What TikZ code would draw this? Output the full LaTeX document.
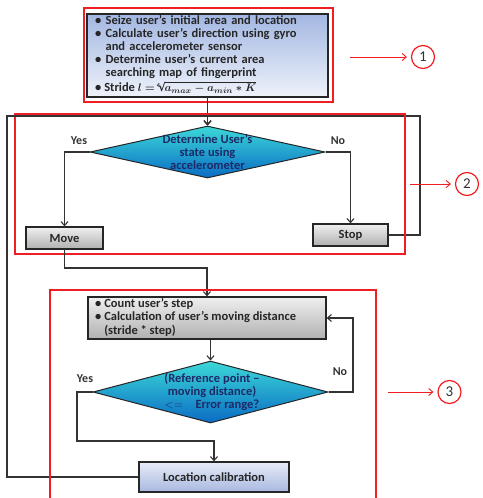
\documentclass[tikz,border=0pt]{standalone}
\usepackage{fontspec}
\setmainfont{Carlito}
\newfontfamily\symf{DejaVu Sans}
\usetikzlibrary{shapes.geometric,arrows.meta}
\definecolor{linec}{HTML}{333333}
\definecolor{redc}{HTML}{F01E23}
\definecolor{navy}{HTML}{1C2A66}
\definecolor{cyanT}{HTML}{3CD8D8}
\definecolor{blueB}{HTML}{0A6CC4}
\definecolor{lbT}{HTML}{A3B7E2}
\definecolor{lbB}{HTML}{EEF2FA}
\definecolor{locT}{HTML}{E6EBF7}
\definecolor{locB}{HTML}{A9B8E0}
\begin{document}
\begin{tikzpicture}[x=1pt,y=-1pt,
  conn/.style={draw=linec, line width=1.1pt},
  arr/.style={conn, -{Straight Barb[length=4pt,width=7pt]}},
  redbox/.style={draw=redc, line width=1.3pt},
  redarr/.style={draw=redc, line width=0.9pt, -{Straight Barb[length=4pt,width=7pt]}},
  num/.style={circle, draw=redc, line width=1.2pt, minimum size=23pt, inner sep=0pt, font=\fontsize{15}{15}\selectfont, text=black!80},
  txt/.style={font=\bfseries\fontsize{12.5}{13.4}\selectfont},
  gbox/.style={txt, draw=black!85, line width=1.3pt, top color=gray!12, bottom color=gray!62, inner sep=0pt, text=black!85},
  dia/.style={diamond, draw=black!85, line width=1pt, top color=cyanT, bottom color=blueB, inner sep=0pt, shape aspect=4},
  dtext/.style={txt, align=center, text=navy},
  lab/.style={font=\bfseries\fontsize{12}{13}\selectfont, text=black!80}
]
\useasboundingbox (0,0) rectangle (482,498);

% ---------- box 1 ----------
\node[draw=black!85, line width=1.3pt, top color=lbT, bottom color=lbB,
      minimum width=241pt, minimum height=83pt, inner sep=0pt] (box1) at (207.5,55.5) {};
\node[align=left, text width=230pt, inner sep=0pt, text=black!85, anchor=north west,
      font=\bfseries\fontsize{12.5}{13}\selectfont] (box1t) at (95,15)
{\textbullet\ Seize user’s initial area and location\\
\textbullet\ Calculate user’s direction using gyro\\
\hphantom{\textbullet\ }and accelerometer sensor\\
\textbullet\ Determine user’s current area\\
\hphantom{\textbullet\ }searching map of fingerprint};
\node[txt, inner sep=0pt, text=black!85, anchor=base west] (box1f) at (95,91.5)
{\textbullet\ Stride {\fontsize{11}{12}\selectfont\boldmath$l=$\,\raisebox{4pt}{\fontsize{6}{6}\selectfont 4}\kern-1.5pt{\symf\fontsize{11}{12}\selectfont √}\kern-1.2pt$\overline{a_{max}-a_{min}*K}$}};
\draw[redbox] (84,8) rectangle (333,102);

% ---------- diamond 1 ----------
\node[dia, minimum width=235pt, minimum height=52pt] (d1) at (207.5,152) {};
\node[dtext] (d1t) at (207.5,152) {Determine User’s\\state using\\accelerometer};
\node[lab] (yes1) at (79,141) {Yes};
\node[lab] (no1) at (338,141) {No};

\node[gbox, minimum width=77pt, minimum height=22pt] (move) at (64.5,238) {Move};
\node[gbox, minimum width=75pt, minimum height=22pt] (stop) at (350.5,235) {Stop};

\coordinate (tl) at (7,116);
\coordinate (tr) at (420,116);
\coordinate (tm) at (207.5,116);
\coordinate (bl) at (7,477);

\draw[arr] (box1) -- (d1.north);
\draw[arr] (d1.west) -| (move.north);
\draw[arr] (d1.east) -| (stop.north);
\draw[arr] (stop.east) -| (tr) -- (tm) -- (d1.north);

\draw[redbox] (15,114) rectangle (405,254);

% ---------- block 3 ----------
\node[gbox, minimum width=238pt, minimum height=42pt] (count) at (207,318) {};
\node[txt, align=left, inner sep=0pt, anchor=north west, text=black!85] (countt) at (95,298)
{\textbullet\ Count user’s step\\
\textbullet\ Calculation of user’s moving distance\\
\hphantom{\textbullet\ }(stride * step)};

\node[dia, minimum width=235pt, minimum height=62pt] (d2) at (210.5,392) {};
\node[dtext] (d2t) at (212,392) {(Reference point –\\moving distance)\\$<=$\quad Error range?};
\node[lab] (yes2) at (85,379) {Yes};
\node[lab] (no2) at (340,372) {No};

\node[gbox, top color=locT, bottom color=locB,
      minimum width=150pt, minimum height=30pt] (loc) at (214,477) {Location calibration};

\coordinate (mv1) at (64.5,268);
\coordinate (mv2) at (207,268);
\draw[arr] (move.south) -- (mv1) -- (mv2) -- (count.north);
\draw[arr] (count.south -| d2.north) -- (d2.north);
\coordinate (n2) at (353,392);
\draw[arr] (d2.east) -- (n2) |- (count.east);
\coordinate (y2a) at (77,392);
\coordinate (y2b) at (77,441);
\draw[arr] (d2.west) -- (y2a) -- (y2b) -| (loc.north);
\draw[arr] (loc.west) -- (bl) -- (tl) -- (tm) -- (d1.north);

\draw[redbox] (50,500) -- (50,290) -- (376,290) -- (376,500);

% ---------- red markers ----------
\node[num] (c1) at (423,57) {1};
\node[num] (c2) at (467,184) {2};
\node[num] (c3) at (449.5,392) {3};
\coordinate (a1) at (350,57);
\coordinate (a2) at (410,184);
\coordinate (a3) at (388,392);
\draw[redarr] (a1) -- ([xshift=-4pt]c1.west);
\draw[redarr] (a2) -- ([xshift=-4pt]c2.west);
\draw[redarr] (a3) -- ([xshift=-4pt]c3.west);
\end{tikzpicture}
\end{document}
